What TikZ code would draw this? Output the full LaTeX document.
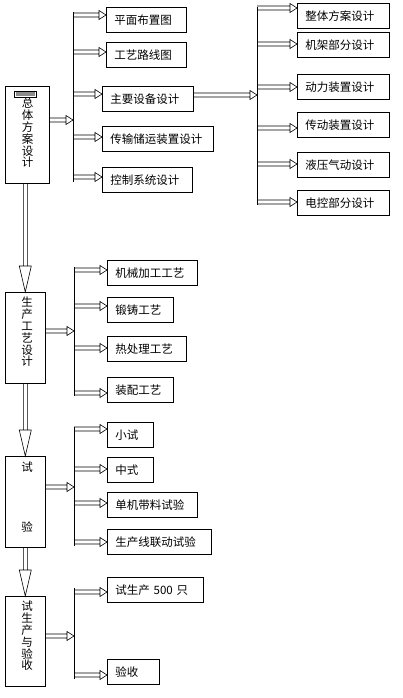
\documentclass[tikz,border=0pt]{standalone}
\usepackage{fontspec}
\usepackage{tikz}
\usetikzlibrary{calc}
\newfontfamily\cjk{Noto Sans CJK SC}

\tikzset{
  box/.style={draw, line width=0.6pt, anchor=north west, inner xsep=8pt, inner ysep=0pt,
    minimum height=25pt, align=left, font=\cjk\fontsize{11.5}{13}\selectfont},
  sidebox/.style={draw, line width=0.6pt, anchor=north west, inner sep=0pt},
  sidetext/.style={align=center, inner sep=0pt, font=\cjk\fontsize{11.5}{11.8}\selectfont},
  % hollow arrow to the right: two shaft lines and an open head
  hollow/.style={line width=0.6pt, to path={let \p1=(\tikztostart), \p2=(\tikztotarget) in
    (\x1,\y1+2pt) -- (\x2-7pt,\y1+2pt)
    (\x1,\y1-2pt) -- (\x2-7pt,\y1-2pt)
    (\x2-7pt,\y1+4.5pt) -- (\x2,\y1) -- (\x2-7pt,\y1-4.5pt) -- cycle}},
  % hollow arrow downwards, long narrow head
  hollowDown/.style={line width=0.6pt, to path={let \p1=(\tikztostart), \p2=(\tikztotarget) in
    (\x2-2pt,\y1) -- (\x2-2pt,\y2+26pt)
    (\x2+2pt,\y1) -- (\x2+2pt,\y2+26pt)
    (\x2-6pt,\y2+26pt) -- (\x2,\y2) -- (\x2+6pt,\y2+26pt) -- cycle}},
  bus/.style={line width=0.8pt}
}

\begin{document}
\begin{tikzpicture}[x=1pt, y=-1pt]
  \useasboundingbox (0,0) rectangle (403,698);
  \newcommand\textPad{16}

  % left column
  \node[sidebox, minimum width=44pt, minimum height=97pt] (ztsj) at (5,86) {};
  \node[sidebox, minimum width=40pt, minimum height=91pt] (scgy) at (5,292) {};
  \node[sidebox, minimum width=40pt, minimum height=91pt] (sy) at (5,456) {};
  \node[sidebox, minimum width=40pt, minimum height=90pt] (sscys) at (5,596) {};

  \node[draw, line width=0.5pt, minimum width=22pt, minimum height=6pt, inner sep=0pt,
    anchor=north west] (ztsjTag) at (14,91) {};
  \fill[black!45] ($(ztsjTag.north west)+(2,1.5)$) rectangle ($(ztsjTag.south east)+(-2,-1.5)$);

  \node[sidetext] (ztsjText) at (27.5,133) {总\\体\\方\\案\\设\\计};
  \node[sidetext] (scgyText) at (27,332) {生\\产\\工\\艺\\设\\计};
  \node[sidetext] (syTextA) at (27,467) {试};
  \node[sidetext] (syTextB) at (27,527) {验};
  \node[sidetext] (sscysText) at (27,636) {试\\生\\产\\与\\验\\收};

  % buses
  \coordinate (busA) at (73,12);  \coordinate (busAEnd) at (73,182);
  \coordinate (busB) at (257,7);  \coordinate (busBEnd) at (257,205);
  \coordinate (busC) at (74,267); \coordinate (busCEnd) at (74,396);
  \coordinate (busD) at (74,427); \coordinate (busDEnd) at (74,546);
  \coordinate (busE) at (74,588); \coordinate (busEEnd) at (74,679);

  \foreach \name/\bus/\bx/\by/\w/\ay/\txt in {
      pmbz/busA/106/7/80/15/平面布置图,
      gylx/busA/106/42/80/52/工艺路线图,
      zysb/busA/102/86/91/94/主要设备设计,
      csccy/busA/102/126/111/137/传输储运装置设计,
      kzxt/busA/102/167/90/177/控制系统设计,
      ztfa/busB/297/3/92/8/整体方案设计,
      jjbf/busB/297/32/92/44/机架部分设计,
      dlzz/busB/297/74/92/87/动力装置设计,
      cdzz/busB/297/112/92/128/传动装置设计,
      yyqd/busB/297/152/92/164/液压气动设计,
      dkbf/busB/297/190/92/202/电控部分设计,
      jxjg/busC/107/260/90/270/机械加工工艺,
      dzgy/busC/107/297/66/306/锻铸工艺,
      rclgy/busC/107/336/79/348/热处理工艺,
      zpgy/busC/107/377/66/393/装配工艺,
      xs/busD/107/422/46/429/小试,
      zs/busD/107/457/46/469/中式,
      djdl/busD/107/492/90/503/单机带料试验,
      scxld/busD/107/529/104/542/生产线联动试验,
      ssc/busE/107/577/96/592/试生产 500 只,
      ys/busE/107/659/52/675/验收}{
    \pgfmathsetmacro\tw{\w-\textPad}
    \node[box, text width=\tw pt] (\name) at (\bx,\by) {\txt};
    \coordinate (\name Level) at (0,\ay);
    \draw[hollow] (\bus |- \name Level) to (\name.west |- \name Level);
  }

  % feeds into the buses
  \foreach \src/\bus/\ay in {ztsj/busA/120, zysb/busB/95, scgy/busC/331, sy/busD/487, sscys/busE/636}{
    \coordinate (\src Feed) at (0,\ay);
    \draw[hollow] (\src.east |- \src Feed) to (\bus |- \src Feed);
  }

  \draw[hollowDown] (ztsj.south -| scgy.north) to (scgy.north);
  \draw[hollowDown] (scgy.south) to (sy.north);
  \draw[hollowDown] (sy.south) to (sscys.north);

  \foreach \bus in {busA,busB,busC,busD,busE}{
    \draw[bus] (\bus) -- (\bus End);
  }

\end{tikzpicture}
\end{document}
